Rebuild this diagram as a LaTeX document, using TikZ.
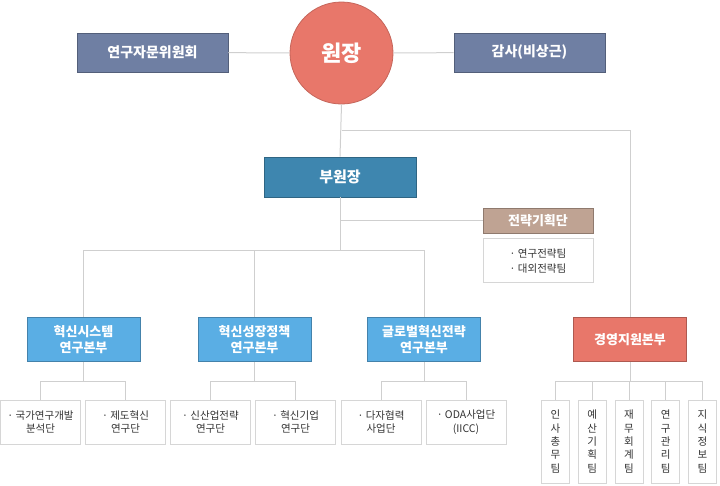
\documentclass[tikz,border=0pt]{standalone}
\usepackage{fontspec}
\setmainfont{Noto Sans CJK KR}
\usetikzlibrary{positioning, shapes.geometric, calc}
\definecolor{dirred}{HTML}{E8776A}
\definecolor{advslate}{HTML}{6F7FA3}
\definecolor{vicetea}{HTML}{3E86AF}
\definecolor{divblue}{HTML}{5AAEE4}
\definecolor{strattan}{HTML}{BFA393}
\definecolor{linegray}{HTML}{CFCFCF}
\definecolor{boxgray}{HTML}{D6D6D6}
\definecolor{txtgray}{HTML}{333333}

\begin{document}
\begin{tikzpicture}[x=1pt, y=-1pt,
    every node/.style={inner sep=0pt, align=center},
    link/.style={draw=linegray, line width=1pt},
    unit/.style={draw=#1!75!black, fill=#1, text=white, line width=0.8pt},
    head/.style={unit=#1, minimum width=151pt, minimum height=39pt,
                 font=\fontsize{14}{16}\selectfont\bfseries},
    division/.style={unit=#1, minimum width=113pt, minimum height=44pt,
                     font=\fontsize{13}{16.5}\selectfont\bfseries},
    subunit/.style={draw=boxgray, fill=white, text=txtgray, line width=1pt,
                    minimum width=80pt, minimum height=44pt,
                    font=\fontsize{10.5}{13.5}\selectfont},
    team/.style={subunit, minimum width=28pt, minimum height=83pt,
                 font=\fontsize{10.5}{13.3}\selectfont},
  ]
  \useasboundingbox (0,0) rectangle (720,485);

  % top level
  \node[ellipse, unit=dirred, draw=dirred!85!black, minimum width=103pt, minimum height=102pt,
        font=\fontsize{22}{24}\selectfont\bfseries] (dir) at (341.5,53) {원장};
  \node[head=advslate] (adv) at (152.5,52.5) {연구자문위원회};
  \node[head=advslate] (audit) at (529.5,52.5) {감사(비상근)};
  \node[head=vicetea, minimum width=152pt, minimum height=40pt,
        font=\fontsize{15}{17}\selectfont\bfseries] (vice) at (340,177) {부원장};

  \node[unit=strattan, minimum width=110pt, minimum height=25pt,
        font=\fontsize{13}{15}\selectfont\bfseries] (strat) at (538,220.5) {전략기획단};
  \node[subunit, minimum width=110pt, font=\fontsize{10.5}{15}\selectfont,
        below=5pt of strat] (stratsub) {· 연구전략팀\\· 대외전략팀};

  % divisions
  \node[division=divblue] (div1) at (83.5,339.5) {혁신시스템\\연구본부};
  \node[division=divblue] (div2) at (254.5,339.5) {혁신성장정책\\연구본부};
  \node[division=divblue] (div3) at (424,339.5) {글로벌혁신전략\\연구본부};
  \node[division=dirred] (mgmt) at (630,339.5) {경영지원본부};

  \node[subunit] (s11) at (40.5,422) {· 국가연구개발\\분석단};
  \node[subunit] (s12) at (125.5,422) {· 제도혁신\\연구단};
  \node[subunit] (s21) at (210.5,422) {· 신산업전략\\연구단};
  \node[subunit] (s22) at (295.5,422) {· 혁신기업\\연구단};
  \node[subunit] (s31) at (381,422) {· 다자협력\\사업단};
  \node[subunit] (s32) at (466,422) {· ODA사업단\\(IICC)};

  \foreach \lbl [count=\i] in {{인\\사\\총\\무\\팀}, {예\\산\\기\\획\\팀},
      {재\\무\\회\\계\\팀}, {연\\구\\관\\리\\팀}, {지\\식\\정\\보\\팀}}
    \node[team] (m\i) at (518.75+36.75*\i,441.5) {\lbl};

  % connectors
  \coordinate (j1) at (dir.south |- 0,130);
  \coordinate (hub) at (vice.south |- 0,250);
  \draw[link] (adv) -- (dir);
  \draw[link] (dir) -- (audit);
  \draw[link] (dir.south) -- (vice.north);
  \draw[link] (j1) -| (mgmt.north);
  \draw[link] (vice.south) |- (strat.west);
  \draw[link] (vice.south) -- (hub);
  \draw[link] (hub) -| (div1.north);
  \draw[link] (hub) -| (div2.north);
  \draw[link] (hub) -| (div3.north);

  \foreach \d in {1,2,3} {
    \coordinate (b\d) at (div\d.south |- 0,381);
    \draw[link] (div\d.south) -- (b\d);
    \draw[link] (b\d) -| (s\d1.north);
    \draw[link] (b\d) -| (s\d2.north);
  }
  \coordinate (b4) at (mgmt.south |- 0,381);
  \draw[link] (mgmt.south) -- (b4);
  \foreach \i in {1,...,5}
    \draw[link] (b4) -| (m\i.north);
\end{tikzpicture}
\end{document}
